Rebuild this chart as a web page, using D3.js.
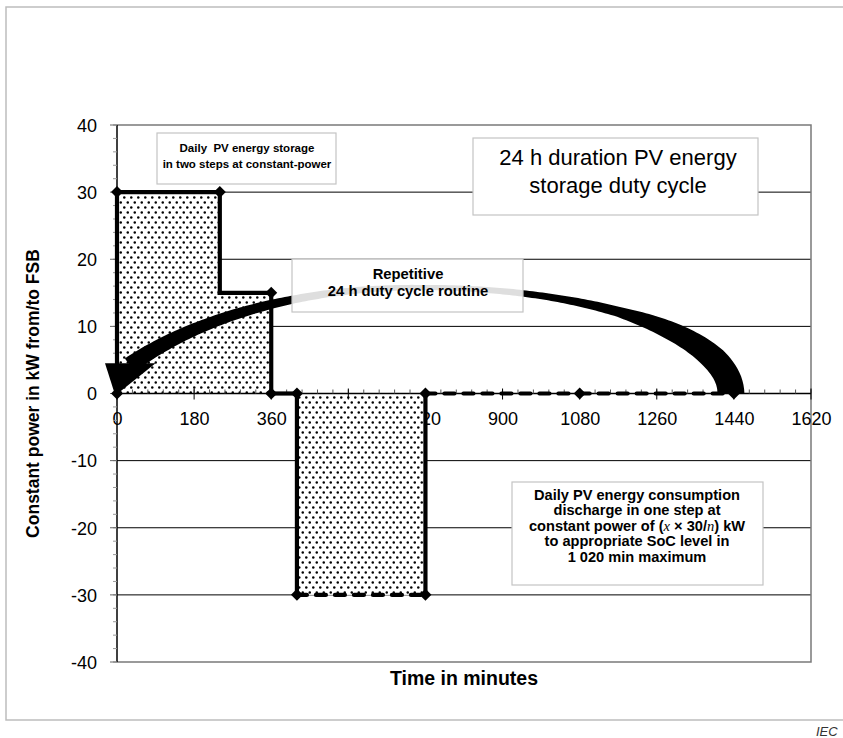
<!DOCTYPE html>
<html>
<head>
<meta charset="utf-8">
<script src="https://cdn.jsdelivr.net/npm/d3@7"></script>
<style>
  body { margin: 0; background: #fff; }
  svg { font-family: Arial, "Liberation Sans", sans-serif; }
</style>
</head>
<body>
<svg id="chart" width="843" height="738"></svg>
<script>
// duty cycle profile (minutes, kW)
const stepMinutes = [0, 0, 240, 240, 360, 360, 420, 420, 720, 720, 1080, 1440];
const stepPower   = [0, 30, 30, 15, 15, 0, 0, -30, -30, 0, 0, 0];
// which segments (i -> i+1) are dashed
const segDashed   = [false, false, false, false, false, false, false, true, false, true, true];
// points that carry a diamond marker
const markerIdx   = [0, 1, 2, 4, 5, 6, 7, 8, 9, 10, 11];

// shaded energy blocks
const blockStart = [0, 240, 420];
const blockEnd   = [240, 360, 720];
const blockPower = [30, 15, -30];

const xTicks = [0, 180, 360, 540, 720, 900, 1080, 1260, 1440, 1620];
const yTicks = [-40, -30, -20, -10, 0, 10, 20, 30, 40];
const yGrid  = [-30, -20, -10, 10, 20, 30];

// curved "repetitive" arrow: two cubic beziers from the 1440 end back to 0
const arcMinutes = [1433, 1433, 1108, 707, 427, 182, 30];
const arcPower   = [0, 8.7, 15.8, 15.8, 15.8, 11.2, 4.2];
const arcWidthPos = [0, 0.06, 0.144, 0.227, 0.326, 0.53, 0.724, 0.871, 0.955, 1];
const arcWidth    = [27, 25, 18, 10, 7, 5, 8, 12, 15, 17];
const headMinutes = [-28, 90, -4];
const headPower   = [4.5, 4.5, -0.3];

const svg = d3.select('#chart');
const x = d3.scaleLinear().domain([0, 1620]).range([117, 811]);
const y = d3.scaleLinear().domain([-40, 40]).range([662, 125]);

// outer frame
svg.append('path')
  .attr('d', 'M843,7H6V720H843')
  .attr('fill', 'none').attr('stroke', '#bdbdbd').attr('stroke-width', 1.5);

svg.append('text').attr('x', 816).attr('y', 736)
  .attr('font-size', 13).attr('font-style', 'italic').attr('fill', '#333')
  .text('IEC');

const defs = svg.append('defs');
const pat = defs.append('pattern').attr('id', 'dots')
  .attr('patternUnits', 'userSpaceOnUse').attr('width', 7).attr('height', 10);
pat.append('rect').attr('width', 7).attr('height', 10).attr('fill', '#fff');
pat.append('circle').attr('cx', 1.75).attr('cy', 2.5).attr('r', 1.25).attr('fill', '#000');
pat.append('circle').attr('cx', 5.25).attr('cy', 7.5).attr('r', 1.25).attr('fill', '#000');

// gridlines
svg.append('g').selectAll('line').data(yGrid).join('line')
  .attr('x1', x(0)).attr('x2', x(1620))
  .attr('y1', d => y(d)).attr('y2', d => y(d))
  .attr('stroke', '#000').attr('stroke-width', 1);

// plot border top/right/bottom
svg.append('path')
  .attr('d', `M${x(0)},${y(40)}H${x(1620)}V${y(-40)}H${x(0)}`)
  .attr('fill', 'none').attr('stroke', '#7a7a7a').attr('stroke-width', 1.5);

// tick labels
const xAxis = svg.append('g').attr('transform', `translate(0,${y(0)})`)
  .call(d3.axisBottom(x).tickValues(xTicks).tickFormat(d => String(d)).tickSize(0).tickPadding(0));
xAxis.select('.domain').remove();
xAxis.selectAll('text').attr('y', 31).attr('dy', null)
  .attr('font-size', 18).attr('font-family', 'Arial, "Liberation Sans", sans-serif').attr('fill', '#000');

const yAxis = svg.append('g').attr('transform', `translate(${x(0)},0)`)
  .call(d3.axisLeft(y).tickValues(yTicks).tickFormat(d => String(d)).tickSize(0).tickPadding(0));
yAxis.select('.domain').remove();
yAxis.selectAll('text').attr('x', -20).attr('dy', '0.35em')
  .attr('font-size', 18).attr('font-family', 'Arial, "Liberation Sans", sans-serif').attr('fill', '#000');

// shaded blocks
svg.append('g').selectAll('rect').data(blockPower).join('rect')
  .attr('x', (d, i) => x(blockStart[i]))
  .attr('width', (d, i) => x(blockEnd[i]) - x(blockStart[i]))
  .attr('y', d => Math.min(y(d), y(0)))
  .attr('height', d => Math.abs(y(d) - y(0)))
  .attr('fill', 'url(#dots)');

// axis lines and ticks
const ax = svg.append('g').attr('stroke', '#000');
ax.append('line').attr('x1', x(0)).attr('x2', x(1620)).attr('y1', y(0)).attr('y2', y(0)).attr('stroke-width', 1.5);
ax.append('line').attr('x1', x(0)).attr('x2', x(0)).attr('y1', y(40)).attr('y2', y(-40)).attr('stroke-width', 1.5);
ax.selectAll('.xminor').data(d3.range(0, 1621, 36)).join('line')
  .attr('x1', d => x(d)).attr('x2', d => x(d))
  .attr('y1', y(0) - 4).attr('y2', y(0)).attr('stroke', '#555');
ax.selectAll('.xmajor').data(xTicks).join('line')
  .attr('x1', d => x(d)).attr('x2', d => x(d))
  .attr('y1', y(0) - 5).attr('y2', y(0) + 6);
ax.selectAll('.yminor').data(d3.range(-40, 41, 2)).join('line')
  .attr('x1', x(0) - 4).attr('x2', x(0))
  .attr('y1', d => y(d)).attr('y2', d => y(d)).attr('stroke', '#999');
ax.selectAll('.ymajor').data(yTicks).join('line')
  .attr('x1', x(0) - 7).attr('x2', x(0))
  .attr('y1', d => y(d)).attr('y2', d => y(d)).attr('stroke', '#666');

// duty cycle line
const seg = svg.append('g');
for (let i = 0; i < stepMinutes.length - 1; i++) {
  seg.append('line')
    .attr('x1', x(stepMinutes[i])).attr('y1', y(stepPower[i]))
    .attr('x2', x(stepMinutes[i + 1])).attr('y2', y(stepPower[i + 1]))
    .attr('stroke', '#000').attr('stroke-width', 4.2)
    .attr('stroke-linecap', segDashed[i] ? 'round' : 'square')
    .attr('stroke-dasharray', segDashed[i] ? '10,9' : null);
}
svg.append('g').selectAll('path').data(markerIdx).join('path')
  .attr('d', d3.symbol(d3.symbolSquare, 72))
  .attr('transform', i => `translate(${x(stepMinutes[i])},${y(stepPower[i])}) rotate(45)`)
  .attr('fill', '#000');

// curved arrow
const c = arcMinutes.map((m, i) => [x(m), y(arcPower[i])]);
const centre = d3.path();
centre.moveTo(...c[0]);
centre.bezierCurveTo(...c[1], ...c[2], ...c[3]);
centre.bezierCurveTo(...c[4], ...c[5], ...c[6]);
const tmp = svg.append('path').attr('fill', 'none').attr('d', centre.toString());
const node = tmp.node();
const L = node.getTotalLength();
const widthAt = d3.scaleLinear().domain(arcWidthPos).range(arcWidth);
const leftEdge = [], rightEdge = [];
const N = 200;
for (let k = 0; k <= N; k++) {
  const s = k / N * L;
  const p = node.getPointAtLength(s);
  const a = node.getPointAtLength(Math.max(0, s - 1));
  const b = node.getPointAtLength(Math.min(L, s + 1));
  const len = Math.hypot(b.x - a.x, b.y - a.y);
  const nx = -(b.y - a.y) / len, ny = (b.x - a.x) / len;
  const w = widthAt(k / N) / 2;
  leftEdge.push([p.x + nx * w, p.y + ny * w]);
  rightEdge.push([p.x - nx * w, p.y - ny * w]);
}
tmp.remove();
svg.append('path')
  .attr('d', 'M' + leftEdge.concat(rightEdge.reverse()).join('L') + 'Z')
  .attr('fill', '#000');
svg.append('path')
  .attr('d', 'M' + headMinutes.map((m, i) => [x(m), y(headPower[i])]).join('L') + 'Z')
  .attr('fill', '#000');

// annotation boxes
function box(x0, y0, x1, y1, opacity) {
  svg.append('rect').attr('x', x0).attr('y', y0)
    .attr('width', x1 - x0).attr('height', y1 - y0)
    .attr('fill', '#fff').attr('fill-opacity', opacity)
    .attr('stroke', '#c4c4c4').attr('stroke-width', 1.2);
}
function lines(cx, y0, dy, size, weight, rows) {
  const t = svg.append('text').attr('text-anchor', 'middle')
    .attr('font-size', size).attr('font-weight', weight)
    .style('white-space', 'pre');
  rows.forEach((r, i) => {
    const ts = t.append('tspan').attr('x', cx).attr('y', y0 + i * dy);
    (Array.isArray(r) ? r : [r]).forEach(part => {
      if (typeof part === 'string') ts.append('tspan').text(part);
      else ts.append('tspan').attr('font-family', '"Liberation Serif", "DejaVu Serif", serif')
        .attr('font-style', 'italic').attr('font-weight', 'normal').text(part.i);
    });
  });
}

box(157, 133, 336, 184, 1);
lines(247, 152, 16, 11.5, 'bold', ['Daily  PV energy storage', 'in two steps at constant-power']);

box(473, 138, 758, 215, 1);
lines(618, 165, 28, 22, 'normal', ['24 h duration PV energy', 'storage duty cycle']);

box(292, 259, 523, 312, 0.87);
lines(408, 279, 17, 14.8, 'bold', ['Repetitive', '24 h duty cycle routine']);

box(512, 482, 763, 585, 1);
lines(637, 500, 15.4, 14.6, 'bold', [
  'Daily PV energy consumption',
  'discharge in one step at',
  ['constant power of (', {i: 'x'}, ' × 30/', {i: 'n'}, ') kW'],
  'to appropriate SoC level in',
  '1 020 min maximum'
]);

// axis titles
svg.append('text')
  .attr('transform', `translate(39,${y(0)}) rotate(-90)`)
  .attr('text-anchor', 'middle').attr('font-size', 17.5).attr('font-weight', 'bold')
  .text('Constant power in kW from/to FSB');
svg.append('text').attr('x', 464).attr('y', 685)
  .attr('text-anchor', 'middle').attr('font-size', 19.5).attr('font-weight', 'bold')
  .text('Time in minutes');
</script>
</body>
</html>
